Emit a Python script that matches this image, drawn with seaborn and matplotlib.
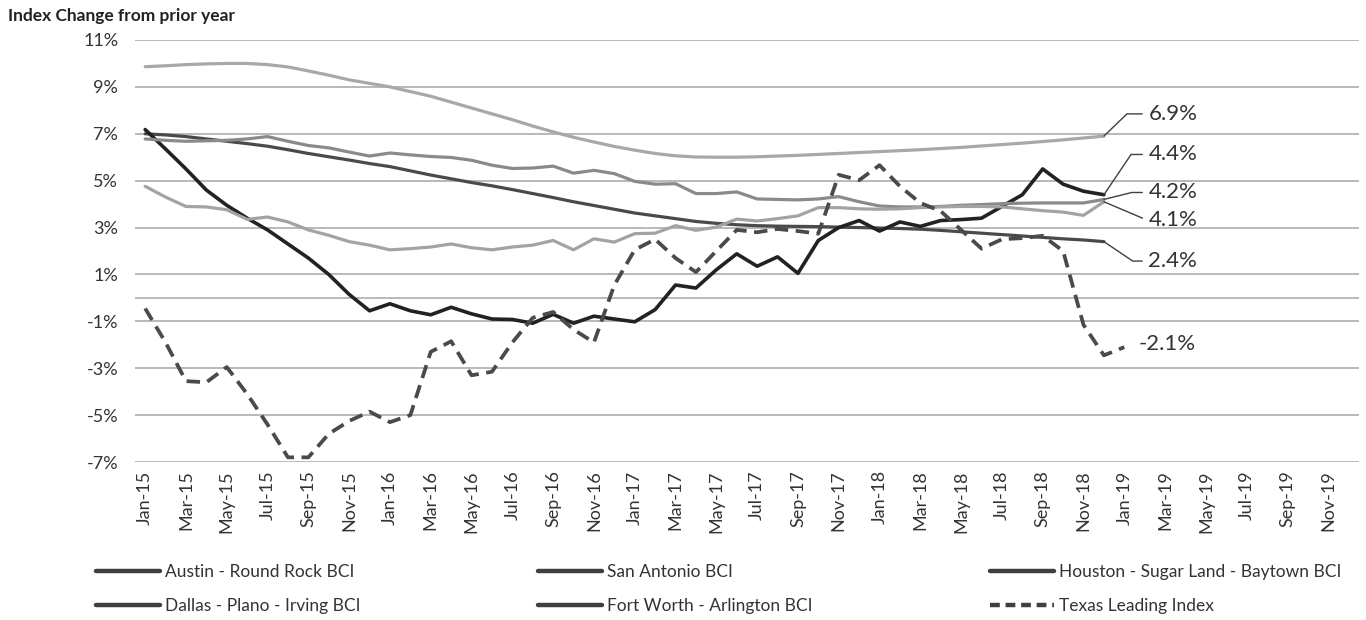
import numpy as np
import pandas as pd
import matplotlib
matplotlib.use("Agg")
import matplotlib.pyplot as plt
import seaborn as sns
from matplotlib.lines import Line2D

months = pd.date_range("2015-01-01", "2019-12-01", freq="MS")
tick_labels = [d.strftime("%b-%y") for d in months]

austin = [9.86, 9.9, 9.95, 9.98, 10.0, 10.0, 9.95, 9.85, 9.68, 9.5,
          9.3, 9.15, 9.0, 8.8, 8.6, 8.35, 8.1, 7.85, 7.6, 7.33,
          7.08, 6.85, 6.65, 6.46, 6.3, 6.16, 6.06, 6.01, 6.0, 6.0,
          6.02, 6.05, 6.08, 6.12, 6.16, 6.2, 6.24, 6.28, 6.32, 6.37,
          6.42, 6.48, 6.54, 6.6, 6.67, 6.74, 6.82, 6.9]
san_antonio = [7.0, 6.95, 6.88, 6.78, 6.68, 6.58, 6.47, 6.32, 6.16, 6.02,
               5.88, 5.73, 5.6, 5.42, 5.24, 5.08, 4.92, 4.78, 4.62, 4.45,
               4.28, 4.1, 3.94, 3.78, 3.62, 3.5, 3.38, 3.26, 3.18, 3.12,
               3.08, 3.06, 3.05, 3.04, 3.02, 3.0, 2.98, 2.96, 2.93, 2.88,
               2.82, 2.76, 2.7, 2.64, 2.58, 2.52, 2.47, 2.4]
houston = [7.18, 6.35, 5.5, 4.6, 3.95, 3.4, 2.9, 2.3, 1.7, 1.0,
           0.15, -0.55, -0.25, -0.55, -0.72, -0.4, -0.68, -0.9, -0.92, -1.08,
           -0.7, -1.08, -0.78, -0.9, -1.02, -0.5, 0.55, 0.42, 1.2, 1.88,
           1.35, 1.75, 1.05, 2.45, 3.0, 3.3, 2.85, 3.24, 3.05, 3.3,
           3.34, 3.4, 3.9, 4.4, 5.5, 4.85, 4.55, 4.4]
dallas = [6.78, 6.72, 6.68, 6.7, 6.72, 6.78, 6.88, 6.68, 6.5, 6.4,
          6.22, 6.05, 6.18, 6.1, 6.03, 5.99, 5.87, 5.66, 5.52, 5.54,
          5.62, 5.32, 5.44, 5.3, 4.97, 4.85, 4.87, 4.45, 4.45, 4.52,
          4.22, 4.2, 4.18, 4.22, 4.32, 4.1, 3.92, 3.88, 3.88, 3.9,
          3.95, 3.98, 4.02, 4.04, 4.05, 4.05, 4.05, 4.2]
fort_worth = [4.76, 4.3, 3.9, 3.88, 3.76, 3.35, 3.45, 3.24, 2.9, 2.67,
              2.4, 2.25, 2.05, 2.1, 2.17, 2.3, 2.14, 2.05, 2.17, 2.25,
              2.45, 2.05, 2.52, 2.38, 2.74, 2.76, 3.08, 2.88, 3.02, 3.36,
              3.28, 3.38, 3.5, 3.85, 3.85, 3.8, 3.78, 3.8, 3.85, 3.88,
              3.9, 3.9, 3.88, 3.8, 3.72, 3.66, 3.52, 4.1]
texas_leading = [-0.45, -1.9, -3.55, -3.6, -2.95, -4.1, -5.4, -6.8, -6.8, -5.8,
                 -5.25, -4.85, -5.3, -5.0, -2.3, -1.85, -3.3, -3.15, -1.9, -0.85,
                 -0.6, -1.35, -1.9, 0.55, 2.05, 2.5, 1.7, 1.1, 2.0, 2.9,
                 2.8, 2.94, 2.85, 2.74, 5.25, 5.02, 5.66, 4.76, 4.05, 3.7,
                 2.9, 2.1, 2.5, 2.55, 2.65, 2.0, -1.15, -2.45, -2.1]

# name, values, color, width, dashed, label offset (pt), leader angle
series = [
    ("Austin - Round Rock BCI", austin, "#a8a8a8", 2.3, False, (32, 16), 44),
    ("San Antonio BCI", san_antonio, "#4a4a4a", 2.3, False, (32, -14), -34),
    ("Houston - Sugar Land - Baytown BCI", houston, "#222222", 2.6, False, (32, 29), 56),
    ("Dallas - Plano - Irving BCI", dallas, "#8a8a8a", 2.3, False, (32, 5), 14),
    ("Fort Worth - Arlington BCI", fort_worth, "#a3a3a3", 2.3, False, (32, -13), -23),
    ("Texas Leading Index", texas_leading, "#4a4a4a", 2.7, True, (10, 2.5), None),
]

sns.set_theme(style="white")
plt.rcParams["font.family"] = ["Lato", "DejaVu Sans"]

fig = plt.figure(figsize=(13.66, 6.2), dpi=100)
ax = fig.add_axes([0.0988, 0.2548, 0.896, 0.6807])

for name, vals, color, lw, dashed, _, _ in series:
    df = pd.DataFrame({"month": np.arange(len(vals)), "value": vals})
    sns.lineplot(data=df, x="month", y="value", ax=ax, color=color, lw=lw, label=name)
    if dashed:
        ax.lines[-1].set_dashes((3.6, 2.0))

ax.set_xlim(-0.5, 59.5)
ax.set_ylim(-7, 11)
ax.set_yticks(range(-7, 12, 2))
ax.set_yticklabels([f"{v}%" for v in range(-7, 12, 2)], fontsize=13, color="#333333")
ax.set_xticks(range(0, 60, 2))
ax.set_xticklabels(tick_labels[::2], rotation=90, fontsize=13, color="#333333")
ax.tick_params(length=0)
ax.tick_params(axis="y", pad=12)
ax.tick_params(axis="x", pad=6)
ax.set_xlabel("")
ax.set_ylabel("")
ax.yaxis.grid(True, color="#b3b3b3", lw=1.3)
ax.xaxis.grid(False)
ax.axhline(0, color="#b3b3b3", lw=1.3, zorder=0.5)
ax.set_axisbelow(True)
for s in ax.spines.values():
    s.set_visible(False)

for name, vals, color, lw, dashed, (dx, dy), ang in series:
    kw = {}
    if ang is not None:
        kw["arrowprops"] = dict(arrowstyle="-", color="#404040", lw=1.0,
                                shrinkA=2, shrinkB=0, relpos=(0, 0.5),
                                connectionstyle=f"angle,angleA=0,angleB={ang},rad=0")
    ax.annotate(f"{vals[-1]:.1f}%", xy=(len(vals) - 1, vals[-1]), xytext=(dx, dy),
                textcoords="offset points", ha="left", va="center",
                fontsize=16, color="#333333", **kw)

ax.get_legend().remove()
handles = []
for name, vals, color, lw, dashed, _, _ in series:
    h = Line2D([], [], color="#3f3f3f", lw=3.2, label=name)
    if dashed:
        h.set_dashes((2.2, 1.3))
    handles.append(h)
order = [0, 3, 1, 4, 2, 5]
fig.legend([handles[i] for i in order], [series[i][0] for i in order],
           loc="upper left", bbox_to_anchor=(0.070, 0.091), ncol=3, frameon=False,
           fontsize=12.5, handlelength=3.7, handletextpad=0.3, columnspacing=10.2,
           labelspacing=1.05, borderpad=0, borderaxespad=0, labelcolor="#333333")

fig.text(0.006, 0.975, "Index Change from prior year", fontsize=12.5,
         fontweight="bold", color="#222222", ha="left", va="center")

fig.savefig("out.png", dpi=100)
